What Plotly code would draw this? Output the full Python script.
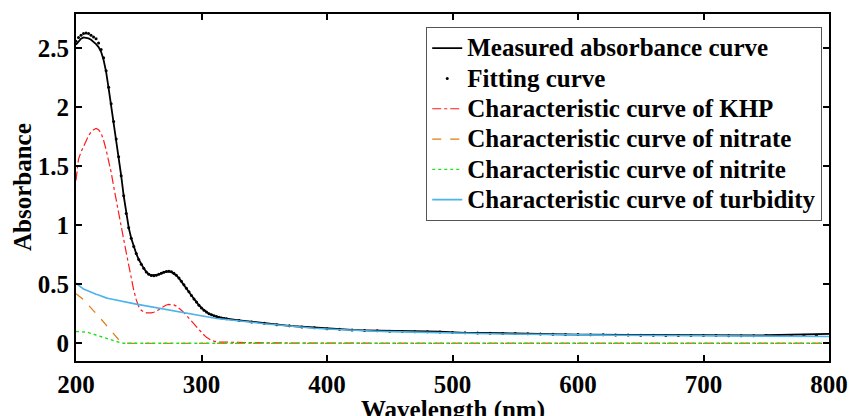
import plotly.graph_objects as go

# Wavelength grid (nm): 2 nm steps through the UV peak region, 10 nm steps afterwards
wl_uv = [200, 202, 204, 206, 208, 210, 212, 214, 216, 218, 220, 222, 224, 226, 228, 230,
         232, 234, 236, 238, 240, 242, 244, 246, 248, 250, 252, 254, 256, 258, 260, 262,
         264, 266, 268, 270, 272, 274, 276, 278, 280, 282, 284, 286, 288, 290, 292, 294,
         296, 298, 300, 302, 304, 306, 308, 310, 312, 314, 316, 318, 320]
wl_vis = [330, 340, 350, 360, 370, 380, 390, 400, 410, 420, 430, 440, 450, 460, 470, 480,
          490, 500, 510, 520, 530, 540, 550, 560, 570, 580, 590, 600, 610, 620, 630, 640,
          650, 660, 670, 680, 690, 700, 710, 720, 730, 740, 750, 760, 770, 780, 790, 800]
wavelength = wl_uv + wl_vis

measured = [2.53, 2.56, 2.58, 2.592, 2.59, 2.583, 2.572, 2.556, 2.535, 2.51, 2.47, 2.40,
            2.30, 2.16, 2.02, 1.88, 1.73, 1.58, 1.42, 1.25, 1.10, 0.98, 0.89, 0.82, 0.76,
            0.71, 0.67, 0.635, 0.605, 0.585, 0.577, 0.575, 0.578, 0.585, 0.595, 0.603,
            0.608, 0.61, 0.605, 0.593, 0.575, 0.552, 0.525, 0.495, 0.465, 0.435, 0.405,
            0.375, 0.348, 0.322, 0.30, 0.28, 0.264, 0.25, 0.24, 0.232, 0.225, 0.22, 0.215,
            0.211, 0.208,
            0.195, 0.182, 0.17, 0.158, 0.148, 0.14, 0.132, 0.125, 0.119, 0.114, 0.11, 0.107,
            0.104, 0.10, 0.098, 0.10, 0.099, 0.092, 0.088, 0.089, 0.09, 0.086, 0.083, 0.08,
            0.078, 0.076, 0.075, 0.073, 0.074, 0.075, 0.074, 0.072, 0.071, 0.07, 0.068,
            0.068, 0.067, 0.066, 0.065, 0.064, 0.066, 0.067, 0.068, 0.07, 0.073, 0.076,
            0.082, 0.079]

fitting = [2.56, 2.59, 2.61, 2.625, 2.63, 2.625, 2.61, 2.595, 2.58, 2.545, 2.49, 2.42,
           2.31, 2.17, 2.03, 1.88, 1.73, 1.58, 1.42, 1.25, 1.10, 0.98, 0.89, 0.82, 0.76,
           0.71, 0.67, 0.635, 0.605, 0.585, 0.575, 0.572, 0.576, 0.584, 0.594, 0.602,
           0.608, 0.61, 0.606, 0.594, 0.576, 0.553, 0.526, 0.496, 0.466, 0.436, 0.406,
           0.376, 0.349, 0.323, 0.30, 0.281, 0.265, 0.251, 0.241, 0.233, 0.226, 0.22, 0.215,
           0.211, 0.207,
           0.194, 0.181, 0.169, 0.158, 0.148, 0.139, 0.131, 0.124, 0.118, 0.113, 0.109,
           0.106, 0.103, 0.10, 0.098, 0.097, 0.095, 0.092, 0.09, 0.088, 0.086, 0.084,
           0.082, 0.08, 0.078, 0.076, 0.075, 0.074, 0.073, 0.072, 0.071, 0.07, 0.069,
           0.068, 0.067, 0.066, 0.066, 0.065, 0.065, 0.064, 0.064, 0.064, 0.065, 0.066,
           0.067, 0.068, 0.068]

khp = [1.38, 1.56, 1.62, 1.67, 1.72, 1.76, 1.79, 1.81, 1.82, 1.81, 1.78, 1.72, 1.64, 1.55,
       1.45, 1.33, 1.21, 1.09, 0.99, 0.88, 0.77, 0.66, 0.55, 0.45, 0.37, 0.31, 0.28, 0.265,
       0.258, 0.256, 0.258, 0.263, 0.272, 0.285, 0.30, 0.315, 0.325, 0.33, 0.33, 0.325,
       0.315, 0.30, 0.28, 0.26, 0.238, 0.215, 0.19, 0.165, 0.14, 0.115, 0.09, 0.07, 0.05,
       0.035, 0.025, 0.018, 0.013, 0.01, 0.01, 0.01, 0.008,
       0.006, 0.005, 0.004, 0.003, 0.002, 0.001, 0, 0, 0, 0, 0, 0, 0, 0, 0, 0,
       0, 0, 0, 0, 0, 0, 0, 0, 0, 0, 0, 0, 0, 0, 0, 0, 0, 0, 0, 0, 0, 0, 0, 0,
       0, 0, 0, 0, 0, 0, 0, 0]

nitrate = [0.42, 0.405, 0.39, 0.37, 0.345, 0.32, 0.30, 0.275, 0.255, 0.23, 0.205, 0.18,
           0.155, 0.13, 0.10, 0.075, 0.05, 0.03, 0.015, 0.006, 0.001,
           0, 0, 0, 0, 0, 0, 0, 0, 0, 0, 0, 0, 0, 0, 0, 0, 0, 0, 0, 0, 0, 0, 0, 0, 0,
           0, 0, 0, 0, 0, 0, 0, 0, 0, 0, 0, 0, 0, 0, 0,
           0, 0, 0, 0, 0, 0, 0, 0, 0, 0, 0, 0, 0, 0, 0, 0, 0, 0, 0, 0, 0, 0, 0, 0,
           0, 0, 0, 0, 0, 0, 0, 0, 0, 0, 0, 0, 0, 0, 0, 0, 0, 0, 0, 0, 0, 0, 0, 0]

nitrite = [0.10, 0.10, 0.10, 0.098, 0.095, 0.09, 0.085, 0.078, 0.07, 0.063, 0.056, 0.05,
           0.043, 0.035, 0.027, 0.019, 0.012, 0.006, 0.003, 0.001, 0,
           0, 0, 0, 0, 0, 0, 0, 0, 0, 0, 0, 0, 0, 0, 0, 0, 0, 0, 0, 0, 0, 0, 0, 0, 0,
           0, 0, 0, 0, 0, 0, 0, 0, 0, 0, 0, 0, 0, 0, 0,
           0, 0, 0, 0, 0, 0, 0, 0, 0, 0, 0, 0, 0, 0, 0, 0, 0, 0, 0, 0, 0, 0, 0, 0,
           0, 0, 0, 0, 0, 0, 0, 0, 0, 0, 0, 0, 0, 0, 0, 0, 0, 0, 0, 0, 0, 0, 0, 0]

turbidity = [0.51, 0.49, 0.475, 0.46, 0.45, 0.44, 0.43, 0.42, 0.415, 0.41, 0.40, 0.395,
             0.385, 0.38, 0.375, 0.37, 0.365, 0.36, 0.355, 0.35, 0.345, 0.342, 0.34,
             0.336, 0.332, 0.328, 0.324, 0.32, 0.316, 0.312, 0.308, 0.304, 0.30, 0.296,
             0.292, 0.288, 0.284, 0.28, 0.276, 0.272, 0.268, 0.264, 0.26, 0.256, 0.252,
             0.248, 0.244, 0.24, 0.236, 0.232, 0.228, 0.225, 0.222, 0.219, 0.216, 0.213,
             0.21, 0.208, 0.206, 0.204, 0.202,
             0.19, 0.178, 0.166, 0.155, 0.145, 0.136, 0.128, 0.121, 0.115, 0.11, 0.106,
             0.102, 0.099, 0.096, 0.093, 0.091, 0.089, 0.087, 0.085, 0.083, 0.081, 0.079,
             0.077, 0.076, 0.074, 0.073, 0.072, 0.071, 0.07, 0.069, 0.068, 0.067, 0.066,
             0.065, 0.064, 0.063, 0.063, 0.062, 0.061, 0.061, 0.06, 0.06, 0.059, 0.059,
             0.058, 0.058, 0.057, 0.057]

series_names = ["Measured absorbance curve", "Fitting curve",
                "Characteristic curve of KHP", "Characteristic curve of nitrate",
                "Characteristic curve of nitrite", "Characteristic curve of turbidity"]

x_ticks = [200, 300, 400, 500, 600, 700, 800]
y_ticks = [0, 0.5, 1, 1.5, 2, 2.5]

FONT = "Liberation Serif"


def legend_label(text):
    # larger glyphs than the legend's base size keep the rows tightly packed
    return f"<span style='font-size:25px'>{text}</span>"


fig = go.Figure()
fig.add_trace(go.Scatter(x=wavelength, y=measured, mode="lines",
                         name=legend_label(series_names[0]),
                         line=dict(color="black", width=1.8)))
fig.add_trace(go.Scatter(x=wavelength, y=fitting, mode="markers",
                         name=legend_label(series_names[1]),
                         marker=dict(color="black", size=3, symbol="circle")))
fig.add_trace(go.Scatter(x=wavelength, y=khp, mode="lines",
                         name=legend_label(series_names[2]),
                         line=dict(color="#FF1A1A", width=1.2, dash="dashdot")))
fig.add_trace(go.Scatter(x=wavelength, y=nitrate, mode="lines",
                         name=legend_label(series_names[3]),
                         line=dict(color="#E07B10", width=1.2, dash="dash")))
fig.add_trace(go.Scatter(x=wavelength, y=nitrite, mode="lines",
                         name=legend_label(series_names[4]),
                         line=dict(color="#1EE01E", width=1.4, dash="dot")))
fig.add_trace(go.Scatter(x=wavelength, y=turbidity, mode="lines",
                         name=legend_label(series_names[5]),
                         line=dict(color="#4BB4EA", width=1.6)))

axis_common = dict(showline=True, linecolor="black", linewidth=2, mirror="ticks",
                   ticks="inside", ticklen=6, tickwidth=2, tickcolor="black",
                   showgrid=False, zeroline=False,
                   tickfont=dict(family=FONT, size=25, color="black", weight="bold"))

fig.update_xaxes(range=[200, 800], tickvals=x_ticks, **axis_common)
fig.update_yaxes(range=[-0.15, 2.79], tickvals=y_ticks, **axis_common)

fig.update_layout(
    width=860, height=416,
    margin=dict(l=76, r=24, t=14, b=55),
    paper_bgcolor="white", plot_bgcolor="white",
    showlegend=True,
    legend=dict(x=0.991, y=0.9625, xanchor="right", yanchor="top",
                bgcolor="white", bordercolor="#555555", borderwidth=1,
                font=dict(family=FONT, size=21, color="black", weight="bold"),
                tracegroupgap=0, itemwidth=30),
    annotations=[
        dict(text="<b>Wavelength (nm)</b>", xref="paper", yref="paper",
             x=0.5, y=-0.095, xanchor="center", yanchor="top", showarrow=False,
             font=dict(family=FONT, size=25, color="black")),
        dict(text="<b>Absorbance</b>", xref="paper", yref="paper",
             x=-0.071, y=0.5, xanchor="center", yanchor="middle", showarrow=False,
             textangle=-90, font=dict(family=FONT, size=25, color="black")),
    ],
)

fig.write_html("out.html")
